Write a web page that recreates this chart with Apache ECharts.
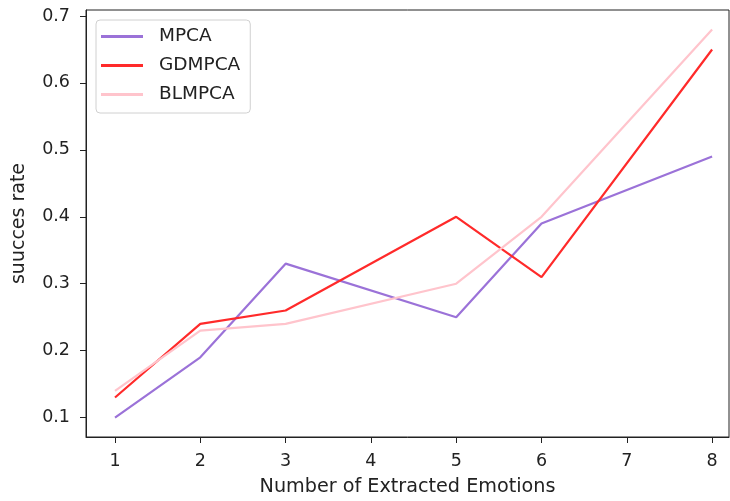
<!DOCTYPE html>
<html><head><meta charset="utf-8">
<script src="https://cdn.jsdelivr.net/npm/echarts@6/dist/echarts.min.js"></script>
<style>html,body{margin:0;padding:0;background:#fff}#c{width:730px;height:501px}</style>
</head><body><div id="c"></div>
<script>
const xValues = [1, 2, 3, 5, 6, 8];
const mpca = [0.10, 0.19, 0.33, 0.25, 0.39, 0.49];
const gdmpca = [0.13, 0.24, 0.26, 0.40, 0.31, 0.65];
const blmpca = [0.14, 0.23, 0.24, 0.30, 0.40, 0.68];
const xTicks = [1, 2, 3, 4, 5, 6, 7, 8];
const yTicks = [0.1, 0.2, 0.3, 0.4, 0.5, 0.6, 0.7];
const seriesNames = ['MPCA', 'GDMPCA', 'BLMPCA'];
const colors = ['#9b72d8', '#ff2a2a', '#ffc4cc'];

const pair = v => xValues.map((x, i) => [x, v[i]]);
const font = 'DejaVu Sans';
const chart = echarts.init(document.getElementById('c'));
chart.setOption({
  animation: false,
  grid: { left: 86, top: 10, width: 643, height: 427, outerBoundsMode: 'none', containLabel: false, show: true, borderColor: '#222', borderWidth: 1, backgroundColor: 'transparent' },
  xAxis: {
    type: 'value', min: 0.66, max: 8.198,
    name: 'Number of Extracted Emotions', nameLocation: 'middle', nameGap: 41,
    nameTextStyle: { fontFamily: font, fontSize: 19.2, color: '#222' },
    axisLine: { show: true, lineStyle: { color: '#222' } },
    axisTick: { show: true, length: 6, customValues: xTicks, lineStyle: { color: '#222' } },
    axisLabel: { customValues: xTicks, fontFamily: font, fontSize: 17.5, color: '#222', margin: 15 },
    splitLine: { show: false }
  },
  yAxis: {
    type: 'value', min: 0.071, max: 0.709,
    name: 'suucces rate', nameLocation: 'middle', nameGap: 57,
    nameTextStyle: { fontFamily: font, fontSize: 19, color: '#222' },
    axisLine: { show: true, lineStyle: { color: '#222' } },
    axisTick: { show: true, length: 6, customValues: yTicks, lineStyle: { color: '#222' } },
    axisLabel: { customValues: yTicks, fontFamily: font, fontSize: 17.5, color: '#222', margin: 16, formatter: v => v.toFixed(1) },
    splitLine: { show: false }
  },
  legend: {
    orient: 'vertical', left: 96, top: 20,
    data: seriesNames.map(n => ({ name: n, icon: 'rect' })),
    itemWidth: 42, itemHeight: 3, itemGap: 8,
    padding: [6, 10, 8, 5],
    borderColor: '#d0d0d0', borderWidth: 1, borderRadius: 4,
    textStyle: { fontFamily: font, fontSize: 18.5, color: '#222', lineHeight: 21, padding: [0, 0, 0, 11] }
  },
  series: [mpca, gdmpca, blmpca].map((v, i) => ({
    name: seriesNames[i], type: 'line', data: pair(v), showSymbol: false, symbol: 'none',
    lineStyle: { width: 2.2, color: colors[i] }, itemStyle: { color: colors[i] }
  }))
});
</script></body></html>
